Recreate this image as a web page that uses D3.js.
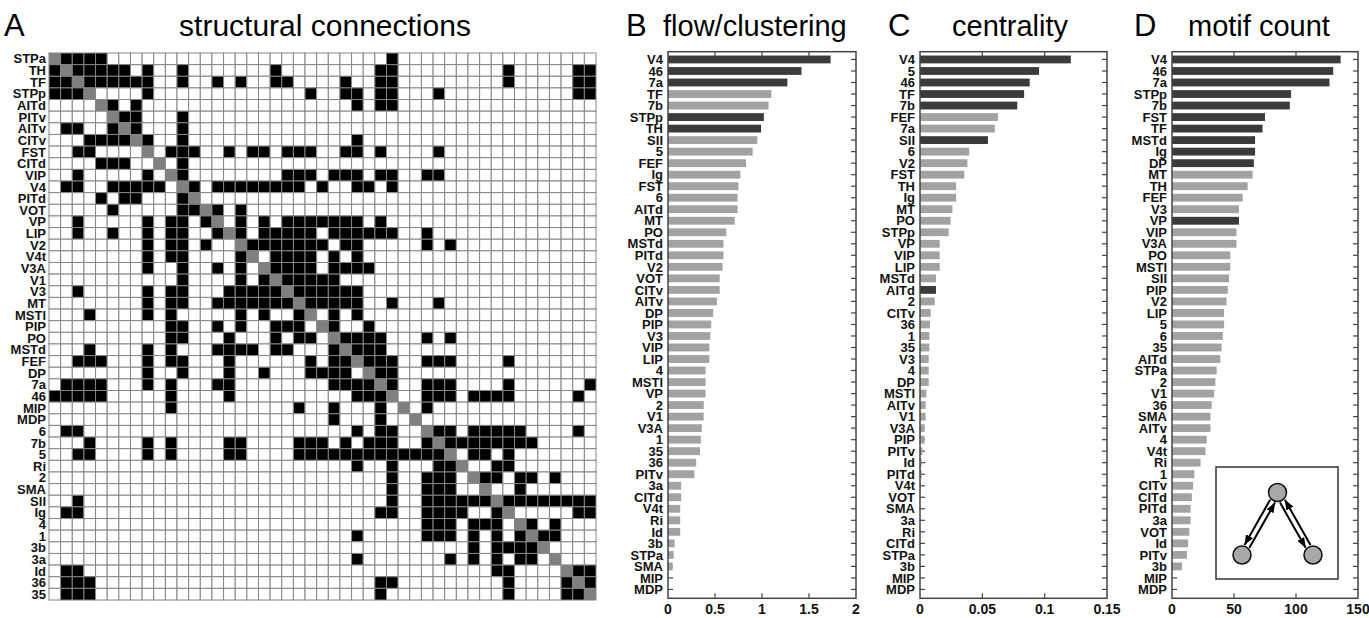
<!DOCTYPE html>
<html>
<head>
<meta charset="utf-8">
<script src="https://cdn.jsdelivr.net/npm/d3@7"></script>
<style>
  body { margin: 0; background: #fff; }
  svg { font-family: "Liberation Sans", Arial, sans-serif; }
</style>
</head>
<body>
<div id="chart"></div>
<script>
// Panel A: area order and connection rows (column indices of connected areas)
const regions = ["STPa","TH","TF","STPp","AITd","PITv","AITv","CITv","FST","CITd","VIP","V4","PITd","VOT","VP","LIP","V2","V4t","V3A","V1","V3","MT","MSTl","PIP","PO","MSTd","FEF","DP","7a","46","MIP","MDP","6","7b","5","Ri","2","SMA","SII","Ig","4","1","3b","3a","Id","36","35"];

const links = [
  [1,2,3,4,29],
  [0,2,3,4,5,6,8,11,19,28,29,39,45,46],
  [0,1,3,4,5,6,7,8,11,14,16,19,20,25,28,29,39,45,46],
  [0,1,2,8,22,25,26,28,29,33,45,46],
  [5,7,26,28,29],
  [6,7,11],
  [1,2,5,7,11],
  [3,4,5,6,8,11,26],
  [2,3,10,11,12,15,17,18,20,21,22,25,26,28,33],
  [4,5,6,11],
  [2,8,11,20,21,22,24,25,26,28,29,32,33],
  [1,2,5,6,7,8,9,12,14,15,16,17,18,19,20,21,23,26,27,29],
  [4,6,7,11],
  [5,11,12,14,16],
  [2,8,10,11,13,16,18,20,21,22,23,24,25,26,28],
  [2,5,8,10,11,14,16,18,19,20,21,22,24,25,26,27,28,29,32],
  [8,10,11,13,17,18,19,20,21,22,23,25,26,32,34],
  [8,10,11,16,19,20,21,22,24,26],
  [8,11,14,16,19,20,21,22,24,25,26,27],
  [11,16,18,20,21,22,23,24],
  [2,8,10,11,15,16,17,18,19,21,22,23,24,25,26],
  [8,10,11,14,15,16,17,18,19,20,22,23,24,25,26,29,33],
  [3,8,10,16,18,21,24,26],
  [10,11,14,16,19,20,21,24,27],
  [10,11,15,19,21,22,25,26,27,28,32,34],
  [3,8,10,14,15,16,17,19,20,24,26,27,28],
  [2,3,4,8,10,11,15,22,24,25,27,28,29,32,33,34,39],
  [8,11,15,18,22,23,24,25,28,29],
  [1,2,3,4,8,10,14,15,24,25,26,27,29,32,33,34,39,46],
  [0,1,2,3,4,10,15,26,27,28,32,33,34,36,37,38,39,45],
  [10,21,24,28,32],
  [24,28],
  [1,2,26,28,29,33,34,36,37,38,39,40,45],
  [3,8,10,15,16,21,22,23,25,27,28,29,32,34,35,36,37,38,39,40,41],
  [2,3,8,10,15,16,21,22,23,24,25,26,27,28,29,30,31,32,33,36,37,39],
  [26,29,33,34,38,39],
  [29,32,33,34,37,38,40,41,43],
  [29,32,33,34,40],
  [2,29,32,33,34,35,36,37,39,40,41,42,43,44,45,46],
  [1,2,28,29,32,33,34,35,38,45,46],
  [32,33,34,36,37,38,41,43],
  [26,32,33,34,36,38,40,42,43],
  [36,38,39,40,41],
  [26,34,36,38,40,41],
  [1,2,38,39,45,46],
  [1,2,3,28,29,39,44,46],
  [1,2,3,28,39,44,45]
];

// Panel B: flow/clustering
const flowLabels = ["V4","46","7a","TF","7b","STPp","TH","SII","5","FEF","Ig","FST","6","AITd","MT","PO","MSTd","PITd","V2","VOT","CITv","AITv","DP","PIP","V3","VIP","LIP","4","MSTl","VP","2","V1","V3A","1","35","36","PITv","3a","CITd","V4t","Ri","Id","3b","STPa","SMA","MIP","MDP"];
const flowValues = [1.73,1.42,1.27,1.10,1.07,1.02,0.99,0.95,0.90,0.83,0.77,0.75,0.74,0.74,0.71,0.62,0.59,0.59,0.58,0.55,0.55,0.52,0.48,0.46,0.45,0.44,0.44,0.40,0.40,0.40,0.38,0.38,0.36,0.35,0.34,0.30,0.28,0.14,0.14,0.13,0.13,0.13,0.07,0.06,0.05,0,0];
const flowDark = ["V4","46","7a","STPp","TH"];
const flowTicks = [0,0.5,1,1.5,2];

// Panel C: centrality
const centLabels = ["V4","5","46","TF","7b","FEF","7a","SII","6","V2","FST","TH","Ig","MT","PO","STPp","VP","VIP","LIP","MSTd","AITd","2","CITv","36","1","35","V3","4","DP","MSTl","AITv","V1","V3A","PIP","PITv","Id","PITd","V4t","VOT","SMA","3a","Ri","CITd","STPa","3b","MIP","MDP"];
const centValues = [0.121,0.0955,0.088,0.0835,0.078,0.0625,0.060,0.0545,0.0395,0.038,0.0355,0.029,0.029,0.026,0.0245,0.023,0.0158,0.0158,0.0158,0.0128,0.0128,0.0118,0.0086,0.008,0.0075,0.0075,0.007,0.007,0.007,0.0051,0.0045,0.0045,0.0037,0.0037,0.0019,0.0013,0.0013,0.0008,0,0,0,0,0,0,0,0,0];
const centDark = ["V4","5","46","TF","7b","SII","AITd"];
const centTicks = [0,0.05,0.1,0.15];

// Panel D: motif count
const motifLabels = ["V4","46","7a","STPp","7b","FST","TF","MSTd","Ig","DP","MT","TH","FEF","V3","VP","VIP","V3A","PO","MSTl","SII","PIP","V2","LIP","5","6","35","AITd","STPa","2","V1","36","SMA","AITv","4","V4t","Ri","1","CITv","CITd","PITd","3a","VOT","Id","PITv","3b","MIP","MDP"];
const motifValues = [136,130,127,96,95,75,73,67,67,66,65,61,57,54,54,52,52,47,47,46,45,44,42,42,41,40,39,36,35,34,32,31,31,28,27,23,18,17,16,15,15,14,13,12,8,0,0];
const motifDark = ["V4","46","7a","STPp","7b","FST","TF","MSTd","Ig","DP","VP"];
const motifTicks = [0,50,100,150];

// Inset motif: nodes in unit space and directed edges
const motifNodes = [{id: "top", u: 0.5, v: 0}, {id: "left", u: 0, v: 1}, {id: "right", u: 1, v: 1}];
const motifEdges = [["top","left"],["left","top"],["top","right"],["right","top"]];

const W = 1369, H = 618;
const svg = d3.select("#chart").append("svg")
    .attr("width", W)
    .attr("height", H);

const defs = svg.append("defs");
defs.append("marker")
    .attr("id", "arrow")
    .attr("viewBox", "0 0 10 8")
    .attr("refX", 10).attr("refY", 4)
    .attr("markerWidth", 10).attr("markerHeight", 8)
    .attr("markerUnits", "userSpaceOnUse")
    .attr("orient", "auto")
    .append("path")
    .attr("d", "M0,0 L10,4 L0,8 Z")
    .attr("fill", "#000");

// ---------- Panel A: matrix ----------
const mx = d3.scaleBand().domain(d3.range(regions.length)).range([49, 596]);
const my = d3.scaleBand().domain(d3.range(regions.length)).range([53, 600]);

const cells = [];
regions.forEach((r, i) => {
    regions.forEach((c, j) => {
        cells.push({i, j, v: i === j ? 2 : (links[i].includes(j) ? 1 : 0)});
    });
});

const matrix = svg.append("g");
matrix.selectAll("rect")
    .data(cells)
    .enter()
    .append("rect")
    .attr("x", d => mx(d.j))
    .attr("y", d => my(d.i))
    .attr("width", mx.bandwidth())
    .attr("height", my.bandwidth())
    .attr("fill", d => d.v === 2 ? "#808080" : d.v === 1 ? "#000" : "#fff")
    .attr("stroke", "#858585")
    .attr("stroke-width", 1);

matrix.selectAll("text")
    .data(regions)
    .enter()
    .append("text")
    .attr("x", 46)
    .attr("y", (d, i) => my(i) + my.bandwidth() / 2)
    .attr("dy", "0.36em")
    .attr("text-anchor", "end")
    .style("font-size", "13px")
    .style("font-weight", "bold")
    .style("fill", "#111")
    .text(d => d);

svg.append("text").attr("x", 4).attr("y", 36)
    .style("font-size", "31px").text("A");
svg.append("text").attr("x", 325).attr("y", 36)
    .attr("text-anchor", "middle")
    .style("font-size", "30px").text("structural connections");

// ---------- Panels B, C, D: bar charts ----------
function barPanel(cfg) {
    const top = 51.7, bottom = 598.3;
    const g = svg.append("g");

    const x = d3.scaleLinear().domain(cfg.domain).range([cfg.left, cfg.right]);
    const y = d3.scaleBand().domain(cfg.labels)
        .range([53.7, 595.2])
        .paddingInner(0.32)
        .paddingOuter(0.16);

    // row ticks on both sides (inward)
    g.selectAll(".rt")
        .data(cfg.labels)
        .enter()
        .append("line")
        .attr("x1", cfg.right - 5).attr("x2", cfg.right)
        .attr("y1", d => y(d) + y.bandwidth() / 2)
        .attr("y2", d => y(d) + y.bandwidth() / 2)
        .attr("stroke", "#444").attr("stroke-width", 1.2);
    g.selectAll(".lt")
        .data(cfg.labels)
        .enter()
        .append("line")
        .attr("x1", cfg.left).attr("x2", cfg.left + 5)
        .attr("y1", d => y(d) + y.bandwidth() / 2)
        .attr("y2", d => y(d) + y.bandwidth() / 2)
        .attr("stroke", "#444").attr("stroke-width", 1.2);

    // value ticks top and bottom (inward)
    const inner = cfg.ticks.slice(1, -1);
    g.selectAll(".tt")
        .data(inner)
        .enter()
        .append("line")
        .attr("x1", d => x(d)).attr("x2", d => x(d))
        .attr("y1", top).attr("y2", top + 5)
        .attr("stroke", "#444").attr("stroke-width", 1.2);
    g.selectAll(".bt")
        .data(inner)
        .enter()
        .append("line")
        .attr("x1", d => x(d)).attr("x2", d => x(d))
        .attr("y1", bottom - 5).attr("y2", bottom)
        .attr("stroke", "#444").attr("stroke-width", 1.2);

    // bars
    g.selectAll(".bar")
        .data(cfg.labels.map((l, i) => ({label: l, value: cfg.values[i]})))
        .enter()
        .append("rect")
        .attr("x", x(0))
        .attr("y", d => y(d.label))
        .attr("width", d => x(d.value) - x(0))
        .attr("height", y.bandwidth())
        .attr("fill", d => cfg.dark.includes(d.label) ? "#3b3b3b" : "#a2a2a2");

    // frame
    g.append("rect")
        .attr("x", cfg.left).attr("y", top)
        .attr("width", cfg.right - cfg.left)
        .attr("height", bottom - top)
        .attr("fill", "none")
        .attr("stroke", "#444")
        .attr("stroke-width", 1.5);

    // row labels
    g.selectAll(".lab")
        .data(cfg.labels)
        .enter()
        .append("text")
        .attr("x", cfg.left - 5)
        .attr("y", d => y(d) + y.bandwidth() / 2)
        .attr("dy", "0.36em")
        .attr("text-anchor", "end")
        .style("font-size", "13px")
        .style("font-weight", "bold")
        .style("fill", "#111")
        .text(d => d);

    // tick labels
    g.selectAll(".tl")
        .data(cfg.ticks)
        .enter()
        .append("text")
        .attr("x", d => x(d))
        .attr("y", 614)
        .attr("text-anchor", "middle")
        .style("font-size", "14px")
        .style("font-weight", "bold")
        .style("fill", "#111")
        .text(d => d);

    // panel letter and title
    svg.append("text").attr("x", cfg.letterX).attr("y", 36)
        .style("font-size", "31px").text(cfg.letter);
    svg.append("text").attr("x", cfg.titleX).attr("y", 36)
        .style("font-size", "29px").text(cfg.title);

    return {x, y};
}

barPanel({left: 668, right: 856, domain: [0, 2], ticks: flowTicks,
    labels: flowLabels, values: flowValues, dark: flowDark,
    letter: "B", letterX: 626, title: "flow/clustering", titleX: 663});

barPanel({left: 920, right: 1107, domain: [0, 0.15], ticks: centTicks,
    labels: centLabels, values: centValues, dark: centDark,
    letter: "C", letterX: 888, title: "centrality", titleX: 952});

barPanel({left: 1172, right: 1358, domain: [0, 150], ticks: motifTicks,
    labels: motifLabels, values: motifValues, dark: motifDark,
    letter: "D", letterX: 1134, title: "motif count", titleX: 1188});

// ---------- Inset motif in panel D ----------
const inset = svg.append("g");
inset.append("rect")
    .attr("x", 1216).attr("y", 467)
    .attr("width", 122).attr("height", 112)
    .attr("fill", "#fff")
    .attr("stroke", "#333")
    .attr("stroke-width", 1.5);

const nx = d3.scaleLinear().domain([0, 1]).range([1242, 1313]);
const ny = d3.scaleLinear().domain([0, 1]).range([492.5, 555]);
const nodeR = 9;
const byId = {};
motifNodes.forEach(n => { byId[n.id] = {x: nx(n.u), y: ny(n.v)}; });

motifEdges.forEach(([s, t]) => {
    const a = byId[s], b = byId[t];
    const dx = b.x - a.x, dy = b.y - a.y;
    const len = Math.hypot(dx, dy);
    const ux = dx / len, uy = dy / len;
    // offset to the right of travel direction
    const ox = -uy * 2.8, oy = ux * 2.8;
    inset.append("line")
        .attr("x1", a.x + ux * (nodeR + 1) + ox)
        .attr("y1", a.y + uy * (nodeR + 1) + oy)
        .attr("x2", b.x - ux * (nodeR + 1) + ox)
        .attr("y2", b.y - uy * (nodeR + 1) + oy)
        .attr("stroke", "#000")
        .attr("stroke-width", 2)
        .attr("marker-end", "url(#arrow)");
});

inset.selectAll("circle")
    .data(motifNodes)
    .enter()
    .append("circle")
    .attr("cx", d => nx(d.u))
    .attr("cy", d => ny(d.v))
    .attr("r", nodeR)
    .attr("fill", "#a8a8a8")
    .attr("stroke", "#111")
    .attr("stroke-width", 1.5);
</script>
</body>
</html>
